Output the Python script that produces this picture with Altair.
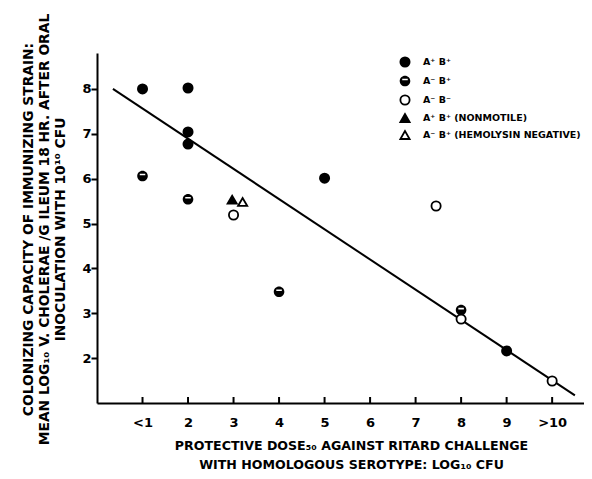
import altair as alt
import pandas as pd

# ---- data ----
groups = ["A⁺ B⁺", "A⁻ B⁺", "A⁻ B⁻", "A⁺ B⁺ (NONMOTILE)", "A⁻ B⁺ (HEMOLYSIN NEGATIVE)"]
dose = [1, 2, 2, 2, 5, 9, 1, 2, 4, 8, 3, 7.45, 8, 10, 2.97, 3.2]
colon = [8.0, 8.02, 7.04, 6.77, 6.01, 2.16, 6.06, 5.54, 3.48, 3.07, 5.19, 5.39, 2.87, 1.49, 5.53, 5.48]
group_idx = [0, 0, 0, 0, 0, 0, 1, 1, 1, 1, 2, 2, 2, 2, 3, 4]
line_dose = [0.35, 10.5]
line_colon = [8.0, 1.17]
x_ticks = [1, 2, 3, 4, 5, 6, 7, 8, 9, 10]
y_ticks = [2, 3, 4, 5, 6, 7, 8]

pts = pd.DataFrame({"dose": dose, "colon": colon, "group": [groups[i] for i in group_idx]})
line_df = pd.DataFrame({"dose": line_dose, "colon": line_colon})
tick_df = pd.DataFrame({"t": x_ticks})

FONT = "DejaVu Sans"
HALF = ("M-1.15,0 A1.15,1.15 0 1,1 1.15,0 A1.15,1.15 0 1,1 -1.15,0 Z "
        "M-0.6,-0.5 L-0.6,-0.15 L0.6,-0.15 L0.6,-0.5 Z")

xscale = alt.Scale(domain=[0, 10.7], nice=False, zero=False)
yscale = alt.Scale(domain=[1, 8.8], nice=False, zero=False)

x_axis = alt.Axis(
    values=x_ticks, ticks=False, grid=False, domainColor="black", domainWidth=2,
    labelFont=FONT, labelFontWeight="bold", labelFontSize=13, labelColor="black",
    labelPadding=13,
    labelExpr="datum.value == 1 ? '<1' : (datum.value == 10 ? '>10' : datum.label)",
    title=["PROTECTIVE DOSE₅₀ AGAINST RITARD CHALLENGE", "WITH HOMOLOGOUS SEROTYPE: LOG₁₀ CFU"],
    titleFont=FONT, titleFontWeight="bold", titleFontSize=12.6, titleColor="black",
    titleLineHeight=19, titlePadding=10, titleX=254, titleAlign="center",
)
y_axis = alt.Axis(
    values=y_ticks, grid=False, domainColor="black", domainWidth=2,
    tickColor="black", tickWidth=2, tickSize=6,
    labelFont=FONT, labelFontWeight="bold", labelFontSize=13, labelColor="black",
    labelPadding=0,
    title=["COLONIZING CAPACITY OF IMMUNIZING STRAIN:",
           "MEAN LOG₁₀ V. CHOLERAE /G ILEUM 18 HR. AFTER ORAL",
           "INOCULATION WITH 10¹⁰ CFU"],
    titleFont=FONT, titleFontWeight="bold", titleFontSize=13.8, titleColor="black",
    titleLineHeight=16, titleAngle=-90, titleX=-76, titleY=176,
    titleAlign="center", titleBaseline="top",
)

line = alt.Chart(line_df).mark_line(color="black", strokeWidth=2).encode(
    x=alt.X("dose:Q", scale=xscale, axis=x_axis),
    y=alt.Y("colon:Q", scale=yscale, axis=y_axis),
)

ticks = alt.Chart(tick_df).mark_rule(color="black", strokeWidth=2).encode(
    x=alt.X("t:Q", scale=xscale),
    y=alt.value(350), y2=alt.value(344),
)

leg = alt.Legend(
    title=None, orient="none", legendX=302, legendY=3,
    labelFont=FONT, labelFontWeight="bold", labelFontSize=9.5, labelColor="black",
    labelLimit=300,
    symbolSize=85, symbolStrokeWidth=1.8, labelOffset=12, rowPadding=1,
)

points = alt.Chart(pts).mark_point(size=85, strokeWidth=1.8, opacity=1, filled=False).encode(
    x=alt.X("dose:Q", scale=xscale),
    y=alt.Y("colon:Q", scale=yscale),
    shape=alt.Shape("group:N", scale=alt.Scale(
        domain=groups, range=["circle", HALF, "circle", "triangle-up", "triangle-up"]), legend=leg),
    fill=alt.Fill("group:N", scale=alt.Scale(
        domain=groups, range=["black", "black", "white", "black", "white"]), legend=leg),
    stroke=alt.Stroke("group:N", scale=alt.Scale(
        domain=groups, range=["black", "transparent", "black", "black", "black"]), legend=leg),
)

chart = alt.layer(line, ticks, points).properties(
    width=487, height=350,
    background="white",
    autosize=alt.AutoSizeParams(type="none"),
    padding={"left": 89, "top": 45, "right": 0, "bottom": 68},
).configure_view(strokeWidth=0)

chart.save("out.html", embed_options={"renderer": "svg", "actions": False})
